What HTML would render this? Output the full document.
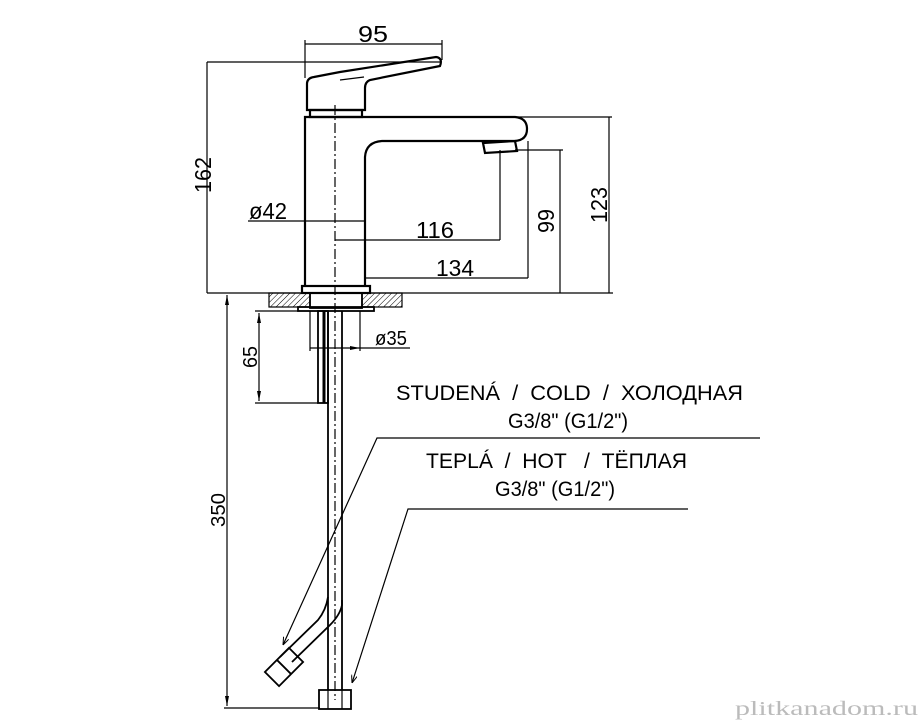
<!DOCTYPE html>
<html><head><meta charset="utf-8"><style>
html,body{margin:0;padding:0;background:#fff;width:922px;height:720px;overflow:hidden}
svg{display:block}
text{font-family:"Liberation Sans",sans-serif;fill:#000}
</style></head><body>
<svg width="922" height="720" viewBox="0 0 922 720" xmlns="http://www.w3.org/2000/svg">
<defs>
<pattern id="h" width="4" height="4" patternUnits="userSpaceOnUse" patternTransform="rotate(45)">
<line x1="0" y1="0" x2="0" y2="4" stroke="#000" stroke-width="1"/></pattern>
<marker id="a" markerWidth="8" markerHeight="6" refX="8" refY="3" orient="auto" markerUnits="userSpaceOnUse">
<path d="M0,0 L8,3 L0,6" fill="none" stroke="#000" stroke-width="1"/></marker>
</defs>
<g fill="none" stroke="#000" stroke-width="1.2">
<line x1="305" y1="44" x2="442" y2="44"/>
<line x1="305" y1="40" x2="305" y2="78"/>
<line x1="442" y1="40" x2="442" y2="60"/>
<line x1="207" y1="62" x2="440" y2="62"/>
<line x1="207" y1="62" x2="207" y2="293"/>
<line x1="207" y1="293" x2="613" y2="293"/>
<line x1="518" y1="117" x2="612" y2="117"/>
<line x1="609" y1="117" x2="609" y2="293"/>
<line x1="515" y1="150" x2="563" y2="150"/>
<line x1="560" y1="150" x2="560" y2="293"/>
<line x1="248" y1="221" x2="365" y2="221"/>
<line x1="335" y1="240" x2="500" y2="240"/>
<line x1="500" y1="150" x2="500" y2="240"/>
<line x1="365" y1="278" x2="528" y2="278"/>
<line x1="528" y1="141" x2="528" y2="278"/>
<line x1="335" y1="105" x2="335" y2="700" stroke-dasharray="10,3,2,3"/>
<path d="M307,110 L307,84 Q307,78 314,77 L340,72 L436,57 Q443,58 440,66 L370,80 Q365,82 365,88 L365,110 Z" stroke-width="2.2"/>
<line x1="340" y1="80" x2="364" y2="77"/>
<rect x="310" y="110" width="52" height="7" stroke-width="2.2"/>
<path d="M305,287 L305,117 L515,117 Q527,118 527,129 Q527,140 515,141 L382,141 Q366,142 365,157 L365,287" stroke-width="2.2"/>
<path d="M483,143 L515,141 L517,151 L485,153 Z" stroke-width="2.2"/>
<rect x="302" y="286" width="68" height="7" stroke-width="2.2"/>
<rect x="269" y="293" width="41" height="14" fill="url(#h)"/>
<rect x="362" y="293" width="40" height="14" fill="url(#h)"/>
<rect x="310" y="293" width="52" height="15" stroke-width="1.8"/>
<rect x="298" y="307" width="76" height="4" stroke-width="1.8"/>
<line x1="255" y1="311" x2="300" y2="311"/>
<line x1="255" y1="403" x2="318" y2="403"/>
<line x1="259" y1="313" x2="259" y2="401"/>
<line x1="227" y1="295" x2="227" y2="706"/>
<line x1="224" y1="708" x2="320" y2="708"/>
<line x1="310" y1="311" x2="310" y2="351"/>
<line x1="360" y1="311" x2="360" y2="351"/>
<line x1="310" y1="348" x2="410" y2="348"/>
<rect x="318" y="311" width="10" height="92" stroke-width="1.8"/>
<line x1="324" y1="311" x2="324" y2="403" stroke-width="3"/>
<line x1="328" y1="311" x2="328" y2="690" stroke-width="1.8"/>
<line x1="342" y1="311" x2="342" y2="690" stroke-width="1.8"/>
<path d="M328,597 Q326,610 318,620 L280,657" stroke-width="1.8"/>
<path d="M342,600 L342,605 Q340,615 330,625 L292,662" stroke-width="1.8"/>
<g transform="translate(284,667) rotate(-45)">
<rect x="-17" y="-10" width="34" height="20" stroke-width="1.8"/>
<line x1="0" y1="-10" x2="0" y2="10" stroke-width="1.8"/>
</g>
<rect x="319" y="690" width="32" height="19" stroke-width="1.8"/>
<line x1="328" y1="690" x2="328" y2="709"/>
<line x1="342" y1="690" x2="342" y2="709"/>
<polyline points="760,438 377,438 283,645" marker-end="url(#a)"/>
<polyline points="688,509 408,509 352,683" marker-end="url(#a)"/>
</g>
<g fill="#000">
<path d="M227,295 l-2,10 h4z"/><path d="M227,706 l-2,-10 h4z"/>
<path d="M259,313 l-2,10 h4z"/><path d="M259,401 l-2,-10 h4z"/>
<path d="M360,348 l-10,-2 v4z"/>
</g>
<g font-size="23">
<text x="373" y="42" text-anchor="middle" textLength="30" lengthAdjust="spacingAndGlyphs">95</text>
<text transform="translate(211,175) rotate(-90)" text-anchor="middle" textLength="36" lengthAdjust="spacingAndGlyphs">162</text>
<text transform="translate(607,205) rotate(-90)" text-anchor="middle" textLength="36" lengthAdjust="spacingAndGlyphs">123</text>
<text transform="translate(554,221) rotate(-90)" text-anchor="middle" textLength="24" lengthAdjust="spacingAndGlyphs">99</text>
<text x="249" y="219" textLength="38" lengthAdjust="spacingAndGlyphs">ø42</text>
<text x="416" y="238" textLength="38" lengthAdjust="spacingAndGlyphs">116</text>
<text x="436" y="276" textLength="38" lengthAdjust="spacingAndGlyphs">134</text>
<text x="375" y="345" textLength="32" lengthAdjust="spacingAndGlyphs" font-size="20">ø35</text>
<text transform="translate(257,357) rotate(-90)" text-anchor="middle" textLength="22" lengthAdjust="spacingAndGlyphs" font-size="20">65</text>
<text transform="translate(225,510) rotate(-90)" text-anchor="middle" textLength="34" lengthAdjust="spacingAndGlyphs" font-size="20">350</text>
</g>
<g font-size="21" style="white-space:pre">
<text x="396" y="400" textLength="347" lengthAdjust="spacingAndGlyphs" xml:space="preserve">STUDENÁ  /  COLD  /  ХОЛОДНАЯ</text>
<text x="508" y="428" textLength="120" lengthAdjust="spacingAndGlyphs">G3/8" (G1/2")</text>
<text x="426" y="468" textLength="261" lengthAdjust="spacingAndGlyphs" xml:space="preserve">TEPLÁ  /  HOT   /  ТЁПЛАЯ</text>
<text x="495" y="496" textLength="120" lengthAdjust="spacingAndGlyphs">G3/8" (G1/2")</text>
</g>
<text x="735" y="715" font-size="20" textLength="183" lengthAdjust="spacingAndGlyphs" style="fill:#bbb;font-family:'Liberation Serif',serif">plitkanadom.ru</text>
</svg>
</body></html>
